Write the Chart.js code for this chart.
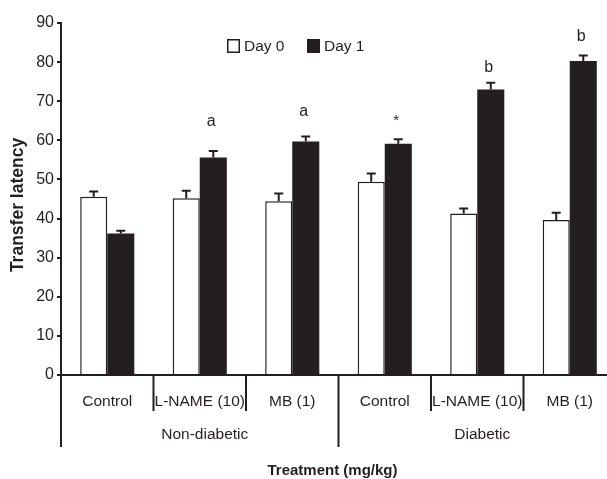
<!DOCTYPE html>
<html>
<head>
<meta charset="utf-8">
<script src="https://cdn.jsdelivr.net/npm/chart.js@4"></script>
<style>
html,body{margin:0;padding:0;background:#fff;overflow:hidden;width:607px;height:479px;}
canvas{display:block;}
</style>
</head>
<body>
<canvas id="c" width="620" height="479" style="width:620px;height:479px"></canvas>
<script>
const categories = ['Control', 'L-NAME (10)', 'MB (1)', 'Control', 'L-NAME (10)', 'MB (1)'];
const groups = ['Non-diabetic', 'Diabetic'];
const groupSizes = [3, 3];
const seriesNames = ['Day 0', 'Day 1'];
const day0 = [45.6, 45.2, 44.4, 49.4, 41.3, 39.6];
const day0Err = [1.3, 1.9, 2.0, 2.1, 1.3, 1.9];
const day1 = [36.2, 55.6, 59.7, 59.1, 73.0, 80.3];
const day1Err = [0.7, 1.7, 1.3, 1.2, 1.7, 1.4];
const marks = ['', 'a', 'a', '*', 'b', 'b'];
const markY = [0, 64.8, 67.4, 65.0, 78.6, 86.5];
const yMin = 0, yMax = 90, yStep = 10;
const yTitle = 'Transfer latency';
const xTitle = 'Treatment (mg/kg)';

const ink = '#231f20';
const FONT = "'Liberation Sans', Arial, Helvetica, sans-serif";

const errors = [day0Err, day1Err];

const extras = {
  id: 'extras',
  afterDatasetsDraw(chart) {
    const ctx = chart.ctx;
    const y = chart.scales.y;
    const x = chart.scales.x;
    const ca = chart.chartArea;
    ctx.save();
    // error bars
    ctx.strokeStyle = ink;
    ctx.lineWidth = 2;
    chart.data.datasets.forEach((ds, di) => {
      const meta = chart.getDatasetMeta(di);
      meta.data.forEach((bar, i) => {
        const top = y.getPixelForValue(ds.data[i] + errors[di][i]);
        const base = y.getPixelForValue(ds.data[i]);
        ctx.beginPath();
        ctx.moveTo(bar.x, base);
        ctx.lineTo(bar.x, top);
        ctx.moveTo(bar.x - 4.5, top);
        ctx.lineTo(bar.x + 4.5, top);
        ctx.stroke();
      });
    });
    // significance marks
    ctx.fillStyle = ink;
    ctx.textAlign = 'center';
    ctx.textBaseline = 'middle';
    const m1 = chart.getDatasetMeta(1);
    marks.forEach((t, i) => {
      if (!t) return;
      ctx.font = (t === '*' ? '15px ' : '16px ') + FONT;
      ctx.fillText(t, m1.data[i].x - 2, y.getPixelForValue(markY[i]));
    });
    // separators below x axis
    const step = (x.getPixelForValue(1) - x.getPixelForValue(0));
    let idx = 0;
    const bounds = [];
    groupSizes.forEach((g, gi) => {
      const start = x.getPixelForValue(idx) - step / 2;
      const end = x.getPixelForValue(idx + g - 1) + step / 2;
      ctx.font = '15.5px ' + FONT;
      ctx.fillText(groups[gi], (start + end) / 2 + 5, ca.bottom + 60);
      for (let k = 1; k < g; k++) bounds.push({ px: start + k * step, long: false });
      if (gi < groupSizes.length - 1) bounds.push({ px: end, long: true });
      idx += g;
    });
    ctx.lineWidth = 2;
    ctx.beginPath();
    ctx.moveTo(ca.left, ca.bottom);
    ctx.lineTo(ca.left, ca.bottom + 72);
    bounds.forEach(b => {
      ctx.moveTo(b.px, ca.bottom);
      ctx.lineTo(b.px, ca.bottom + (b.long ? 72 : 36));
    });
    ctx.stroke();
    // x title
    ctx.font = 'bold 15px ' + FONT;
    ctx.fillText(xTitle, (ca.left + ca.right) / 2 - 6, ca.bottom + 96);
    // y title
    ctx.save();
    ctx.translate(18, (ca.top + ca.bottom) / 2 + 6);
    ctx.rotate(-Math.PI / 2);
    ctx.font = 'bold 17.5px ' + FONT;
    ctx.fillText(yTitle, 0, 0);
    ctx.restore();
    // legend
    const lx = ca.left + 166, ly = 39;
    ctx.font = '15.5px ' + FONT;
    ctx.textAlign = 'left';
    chart.data.datasets.forEach((ds, di) => {
      const bx = lx + di * 80;
      ctx.fillStyle = ds.backgroundColor;
      ctx.fillRect(bx, ly, 13, 14);
      ctx.strokeStyle = ink;
      ctx.lineWidth = 1.5;
      ctx.strokeRect(bx + 0.75, ly + 0.75, 11.5, 12.5);
      ctx.fillStyle = ink;
      ctx.fillText(ds.label, bx + 17, ly + 8);
    });
    ctx.restore();
  }
};

new Chart(document.getElementById('c'), {
  type: 'bar',
  data: {
    labels: categories,
    datasets: [
      { label: seriesNames[0], data: day0, backgroundColor: '#ffffff', borderColor: ink, borderWidth: 1.5, borderSkipped: 'start' },
      { label: seriesNames[1], data: day1, backgroundColor: ink, borderColor: ink, borderWidth: 0 }
    ]
  },
  options: {
    responsive: false,
    animation: false,
    devicePixelRatio: 1,
    layout: { padding: { top: 23, right: 4, left: 0, bottom: 0 } },
    datasets: { bar: { categoryPercentage: 0.585, barPercentage: 1 } },
    plugins: { legend: { display: false }, tooltip: { enabled: false } },
    scales: {
      x: {
        grid: { display: false, drawTicks: false },
        border: { display: true, color: ink, width: 2 },
        ticks: { padding: 17, color: ink, font: { family: FONT, size: 15.5 }, maxRotation: 0, autoSkip: false },
        afterFit(s) { s.height = 104; }
      },
      y: {
        min: yMin, max: yMax,
        ticks: { stepSize: yStep, padding: 3, color: ink, font: { family: FONT, size: 16 } },
        grid: { drawOnChartArea: false, drawTicks: true, tickLength: 4, color: ink, lineWidth: 2 },
        border: { display: true, color: ink, width: 2 },
        title: { display: false },
        afterFit(s) { s.width = 61; }
      }
    }
  },
  plugins: [extras]
});
</script>
</body>
</html>
